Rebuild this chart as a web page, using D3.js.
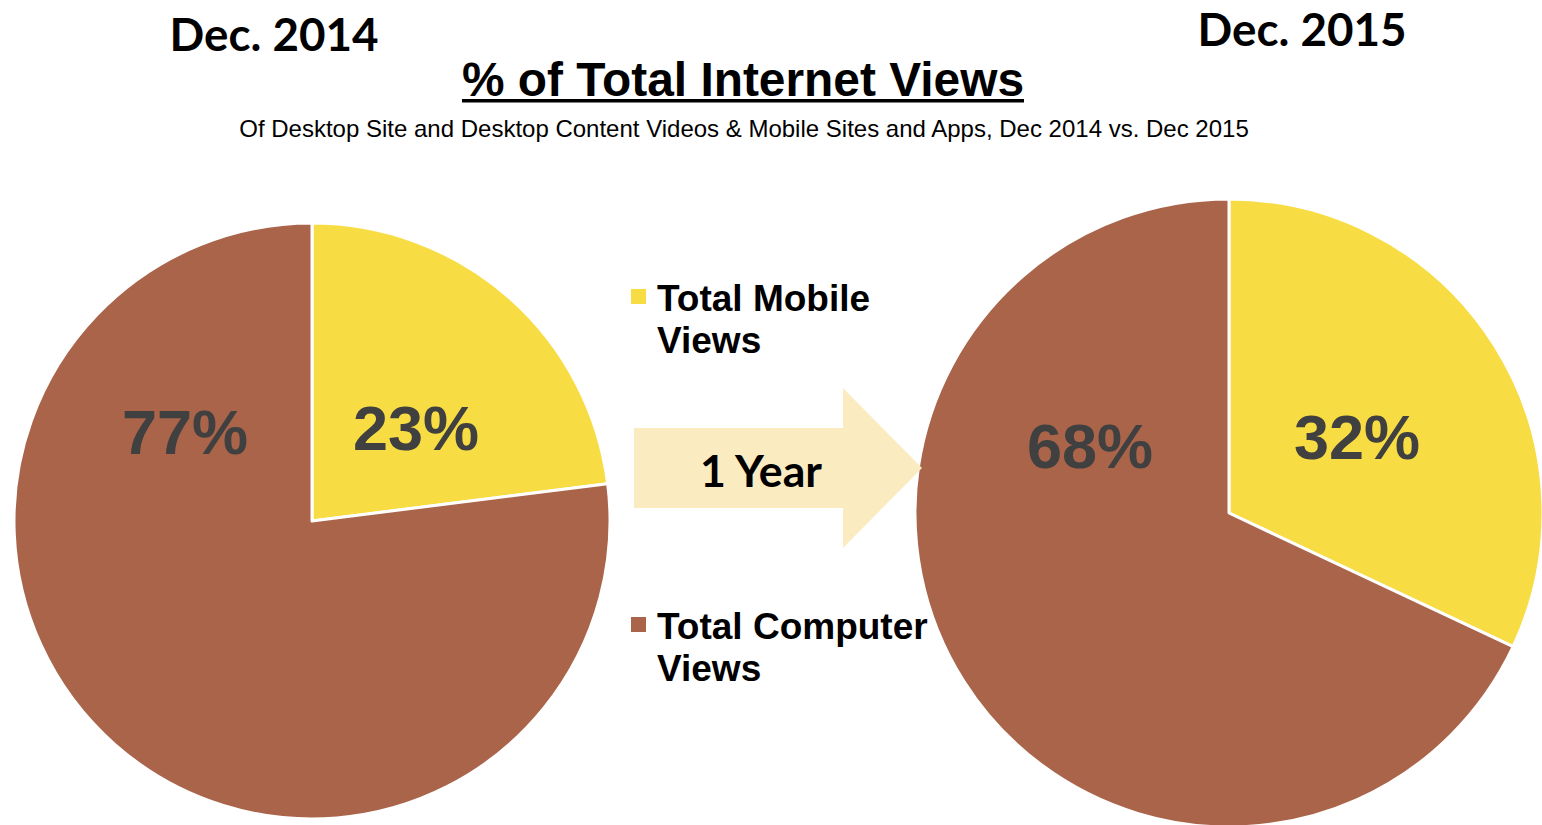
<!DOCTYPE html>
<html>
<head>
<meta charset="utf-8">
<script src="https://cdn.jsdelivr.net/npm/d3@7"></script>
<style>
  html, body { margin: 0; padding: 0; background: #ffffff; }
  svg { display: block; }
</style>
</head>
<body>
<svg id="chart" width="1542" height="825"></svg>
<script>
// Share of internet views by platform
const categories = ["Total Mobile Views", "Total Computer Views"];
const periods = ["Dec. 2014", "Dec. 2015"];
const mobileShare = [23, 32];
const computerShare = [77, 68];

const titleText = "% of Total Internet Views";
const subtitleText = "Of Desktop Site and Desktop Content Videos & Mobile Sites and Apps, Dec 2014 vs. Dec 2015";
const arrowText = "1 Year";
const legendLines = [["Total Mobile", "Views"], ["Total Computer", "Views"]];

const colors = d3.scaleOrdinal().domain(categories).range(["#F7DD43", "#A9644A"]);

const svg = d3.select("#chart");

const geoFont = '"Lato", "DejaVu Sans", sans-serif';
const arialFont = '"Liberation Sans", "Arimo", "Arial", sans-serif';

// Shrink or grow a text element's font size so it spans the given width
function fitWidth(sel, width) {
  const fs = parseFloat(sel.style("font-size"));
  const w = sel.node().getComputedTextLength();
  sel.style("font-size", (fs * width / w).toFixed(2) + "px");
  return sel;
}

// Pie layouts (geometry for each year)
const pies = [
  { cx: 312, cy: 521, r: 298, header: { x: 274, y: 51 },
    labels: [{ x: 416, y: 450 }, { x: 185, y: 454 }] },
  { cx: 1229, cy: 513, r: 314, header: { x: 1302, y: 46 },
    labels: [{ x: 1357, y: 459 }, { x: 1090, y: 468 }] }
];

const pie = d3.pie().sort(null).value(d => d.value);

pies.forEach((p, i) => {
  const data = [
    { key: categories[0], value: mobileShare[i] },
    { key: categories[1], value: computerShare[i] }
  ];
  const arc = d3.arc().innerRadius(0).outerRadius(p.r);
  const g = svg.append("g").attr("transform", `translate(${p.cx},${p.cy})`);
  const arcs = pie(data);
  g.selectAll("path")
    .data(arcs)
    .join("path")
    .attr("d", arc)
    .attr("fill", d => colors(d.data.key))
    .attr("stroke", "#ffffff")
    .attr("stroke-width", 3)
    .attr("stroke-linejoin", "round");

  svg.selectAll(null)
    .data(arcs)
    .join("text")
    .attr("x", (d, j) => p.labels[j].x)
    .attr("y", (d, j) => p.labels[j].y)
    .attr("text-anchor", "middle")
    .style("font-family", arialFont)
    .style("font-weight", "bold")
    .style("font-size", "63px")
    .attr("fill", "#404040")
    .text(d => d.data.value + "%");

  const h = svg.append("text")
    .attr("x", p.header.x)
    .attr("y", p.header.y)
    .attr("text-anchor", "middle")
    .style("font-family", geoFont)
    .style("font-weight", "bold")
    .style("font-size", "46px")
    .attr("fill", "#000")
    .text(periods[i]);
  fitWidth(h, 209);
});

// Title with underline
const title = svg.append("text")
  .attr("x", 743)
  .attr("y", 96)
  .attr("text-anchor", "middle")
  .style("font-family", arialFont)
  .style("font-weight", "bold")
  .style("font-size", "48px")
  .attr("fill", "#000")
  .text(titleText);
fitWidth(title, 562);
const tw = title.node().getComputedTextLength();
svg.append("rect")
  .attr("x", 743 - tw / 2)
  .attr("y", 99)
  .attr("width", tw)
  .attr("height", 3.5)
  .attr("fill", "#000");

const sub = svg.append("text")
  .attr("x", 744)
  .attr("y", 137)
  .attr("text-anchor", "middle")
  .style("font-family", arialFont)
  .style("font-size", "20px")
  .attr("fill", "#000")
  .text(subtitleText);
fitWidth(sub, 1010);

// Transition arrow between the two years
const arrow = d3.path();
arrow.moveTo(634, 428);
arrow.lineTo(843, 428);
arrow.lineTo(843, 388);
arrow.lineTo(922, 468);
arrow.lineTo(843, 548);
arrow.lineTo(843, 508);
arrow.lineTo(634, 508);
arrow.closePath();
svg.append("path")
  .attr("d", arrow.toString())
  .attr("fill", "#FAEBC0");

const yr = svg.append("text")
  .attr("x", 761)
  .attr("y", 487)
  .attr("text-anchor", "middle")
  .style("font-family", geoFont)
  .style("font-weight", "bold")
  .style("font-size", "42px")
  .attr("fill", "#000")
  .text(arrowText);
fitWidth(yr, 122);

// Legend
const legendPos = [{ x: 631, y: 289 }, { x: 631, y: 617 }];
categories.forEach((c, i) => {
  const lp = legendPos[i];
  svg.append("rect")
    .attr("x", lp.x).attr("y", lp.y)
    .attr("width", 15).attr("height", 15)
    .attr("fill", colors(c));
  const t = svg.append("text")
    .style("font-family", arialFont)
    .style("font-weight", "bold")
    .style("font-size", "37px")
    .attr("fill", "#000");
  legendLines[i].forEach((line, k) => {
    t.append("tspan")
      .attr("x", lp.x + 26)
      .attr("y", lp.y + 22 + k * 42)
      .text(line);
  });
});
</script>
</body>
</html>
